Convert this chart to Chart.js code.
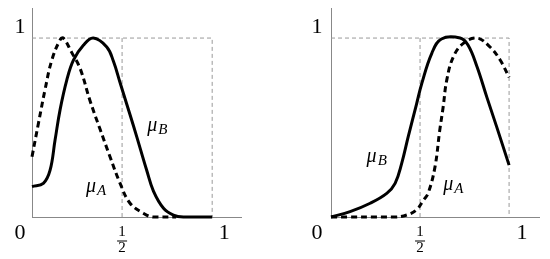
<!DOCTYPE html>
<html>
<head>
<meta charset="utf-8">
<script src="https://cdn.jsdelivr.net/npm/chart.js"></script>
<style>
  html, body { margin: 0; padding: 0; background: #fff; }
  #wrap { display: flex; width: 550px; height: 259px; }
  .panel { position: relative; width: 275px; height: 259px; }
</style>
</head>
<body>
<div id="wrap">
  <div class="panel"><canvas id="left"></canvas></div>
  <div class="panel"><canvas id="right"></canvas></div>
</div>
<script>
// left panel: membership curves
const leftBX = [0, 0.063, 0.1, 0.128, 0.156, 0.193, 0.23, 0.285, 0.34, 0.415, 0.452, 0.489, 0.526, 0.563, 0.60, 0.637, 0.674, 0.73, 0.785, 0.84, 1.0];
const leftBY = [0.17, 0.188, 0.26, 0.43, 0.60, 0.765, 0.877, 0.96, 1.0, 0.95, 0.87, 0.75, 0.63, 0.51, 0.385, 0.26, 0.145, 0.049, 0.011, 0, 0];
const leftAX = [0, 0.035, 0.072, 0.11, 0.156, 0.174, 0.22, 0.267, 0.322, 0.378, 0.433, 0.489, 0.544, 0.62, 0.67, 0.80];
const leftAY = [0.337, 0.52, 0.71, 0.877, 0.99, 1.0, 0.92, 0.83, 0.65, 0.49, 0.337, 0.188, 0.077, 0.02, 0, 0];

// right panel
const rightBX = [0, 0.107, 0.22, 0.313, 0.36, 0.397, 0.434, 0.48, 0.51, 0.566, 0.62, 0.725, 0.77, 0.82, 0.875, 0.93, 1.0];
const rightBY = [0, 0.03, 0.077, 0.132, 0.188, 0.30, 0.45, 0.63, 0.747, 0.915, 0.995, 1.0, 0.96, 0.84, 0.67, 0.505, 0.29];
const rightAX = [0, 0.36, 0.425, 0.48, 0.52, 0.546, 0.584, 0.61, 0.63, 0.65, 0.687, 0.743, 0.82, 0.893, 0.95, 1.0];
const rightAY = [0, 0, 0.011, 0.04, 0.095, 0.134, 0.28, 0.48, 0.616, 0.765, 0.895, 0.97, 1.0, 0.95, 0.877, 0.78];

// tick labels on the axes
const xTickValues = [0, 0.5, 1];
const yTickValues = [1];

// where the curve names sit (data coords, left/baseline)
const leftLabelB = [0.64, 0.48];
const leftLabelA = [0.30, 0.14];
const rightLabelB = [0.20, 0.31];
const rightLabelA = [0.63, 0.15];

const toPoints = (xs, ys) => xs.map((x, i) => ({ x: x, y: ys[i] }));

const SERIF = '"Liberation Serif", "DejaVu Serif", serif';

// axis labels and curve names drawn from the scales
function labelPlugin(opts) {
  return {
    id: 'labels',
    afterDraw(chart) {
      const ctx = chart.ctx;
      const xs = chart.scales.x, ys = chart.scales.y;
      const y0 = ys.getPixelForValue(0);
      const x0 = xs.getPixelForValue(0);
      ctx.save();
      ctx.fillStyle = '#000';
      ctx.textAlign = 'center';
      ctx.textBaseline = 'middle';
      xTickValues.forEach(v => {
        const px = xs.getPixelForValue(v);
        if (v === 0.5) {
          ctx.font = '15px ' + SERIF;
          ctx.fillText('1', px, y0 + 15);
          ctx.fillRect(px - 5, y0 + 23.5, 10, 1);
          ctx.fillText('2', px, y0 + 31);
        } else {
          ctx.font = '22px ' + SERIF;
          const off = v === 0 ? -opts.zeroOff : opts.oneOff;
          ctx.fillText(String(v), px + off, y0 + 16);
        }
      });
      yTickValues.forEach(v => {
        ctx.font = '22px ' + SERIF;
        ctx.fillText(String(v), x0 - opts.zeroOff, ys.getPixelForValue(v) - 11);
      });
      ctx.textAlign = 'left';
      ctx.textBaseline = 'alphabetic';
      opts.names.forEach(n => {
        const px = xs.getPixelForValue(n.at[0]);
        const py = ys.getPixelForValue(n.at[1]);
        ctx.font = 'italic 20px ' + SERIF;
        ctx.fillText('\u03bc', px, py);
        const w = ctx.measureText('\u03bc').width;
        ctx.font = 'italic 15px ' + SERIF;
        ctx.fillText(n.sub, px + w + 1, py + 3);
      });
      ctx.restore();
    }
  };
}

function makeChart(id, bPts, aPts, pad, xMax, yMax, labelOpts) {
  const guide = {
    borderColor: '#999', borderWidth: 1, borderDash: [4, 3],
    pointRadius: 0, tension: 0, fill: false
  };
  new Chart(document.getElementById(id), {
    type: 'line',
    data: {
      datasets: [
        {
          data: bPts, borderColor: '#000', borderWidth: 3,
          pointRadius: 0, tension: 0.4, fill: false, clip: false
        },
        {
          data: aPts, borderColor: '#000', borderWidth: 3, borderDash: [6, 4],
          pointRadius: 0, tension: 0.4, fill: false, clip: false
        },
        Object.assign({ data: [{ x: 0, y: 1 }, { x: 1, y: 1 }, { x: 1, y: 0 }] }, guide),
        Object.assign({ data: [{ x: 0.5, y: 0 }, { x: 0.5, y: 1 }] }, guide)
      ]
    },
    options: {
      responsive: false,
      animation: false,
      events: [],
      layout: { padding: pad },
      plugins: { legend: { display: false }, tooltip: { enabled: false } },
      scales: {
        x: {
          type: 'linear', min: 0, max: xMax,
          grid: { display: false, drawTicks: false },
          ticks: { display: false },
          border: { display: true, color: '#888', width: 1 }
        },
        y: {
          type: 'linear', min: 0, max: yMax,
          grid: { display: false, drawTicks: false },
          ticks: { display: false },
          border: { display: true, color: '#888', width: 1 }
        }
      }
    },
    plugins: [labelPlugin(labelOpts)]
  });
}

document.getElementById('left').width = 275;
document.getElementById('left').height = 259;
document.getElementById('right').width = 275;
document.getElementById('right').height = 259;

makeChart('left', toPoints(leftBX, leftBY), toPoints(leftAX, leftAY),
  { left: 32, right: 34, top: 8, bottom: 42 }, 1.16, 1.168,
  { zeroOff: 12, oneOff: 12, names: [{ sub: 'B', at: leftLabelB }, { sub: 'A', at: leftLabelA }] });

makeChart('right', toPoints(rightBX, rightBY), toPoints(rightAX, rightAY),
  { left: 56, right: 11, top: 8, bottom: 42 }, 1.168, 1.168,
  { zeroOff: 14, oneOff: 13, names: [{ sub: 'B', at: rightLabelB }, { sub: 'A', at: rightLabelA }] });
</script>
</body>
</html>
